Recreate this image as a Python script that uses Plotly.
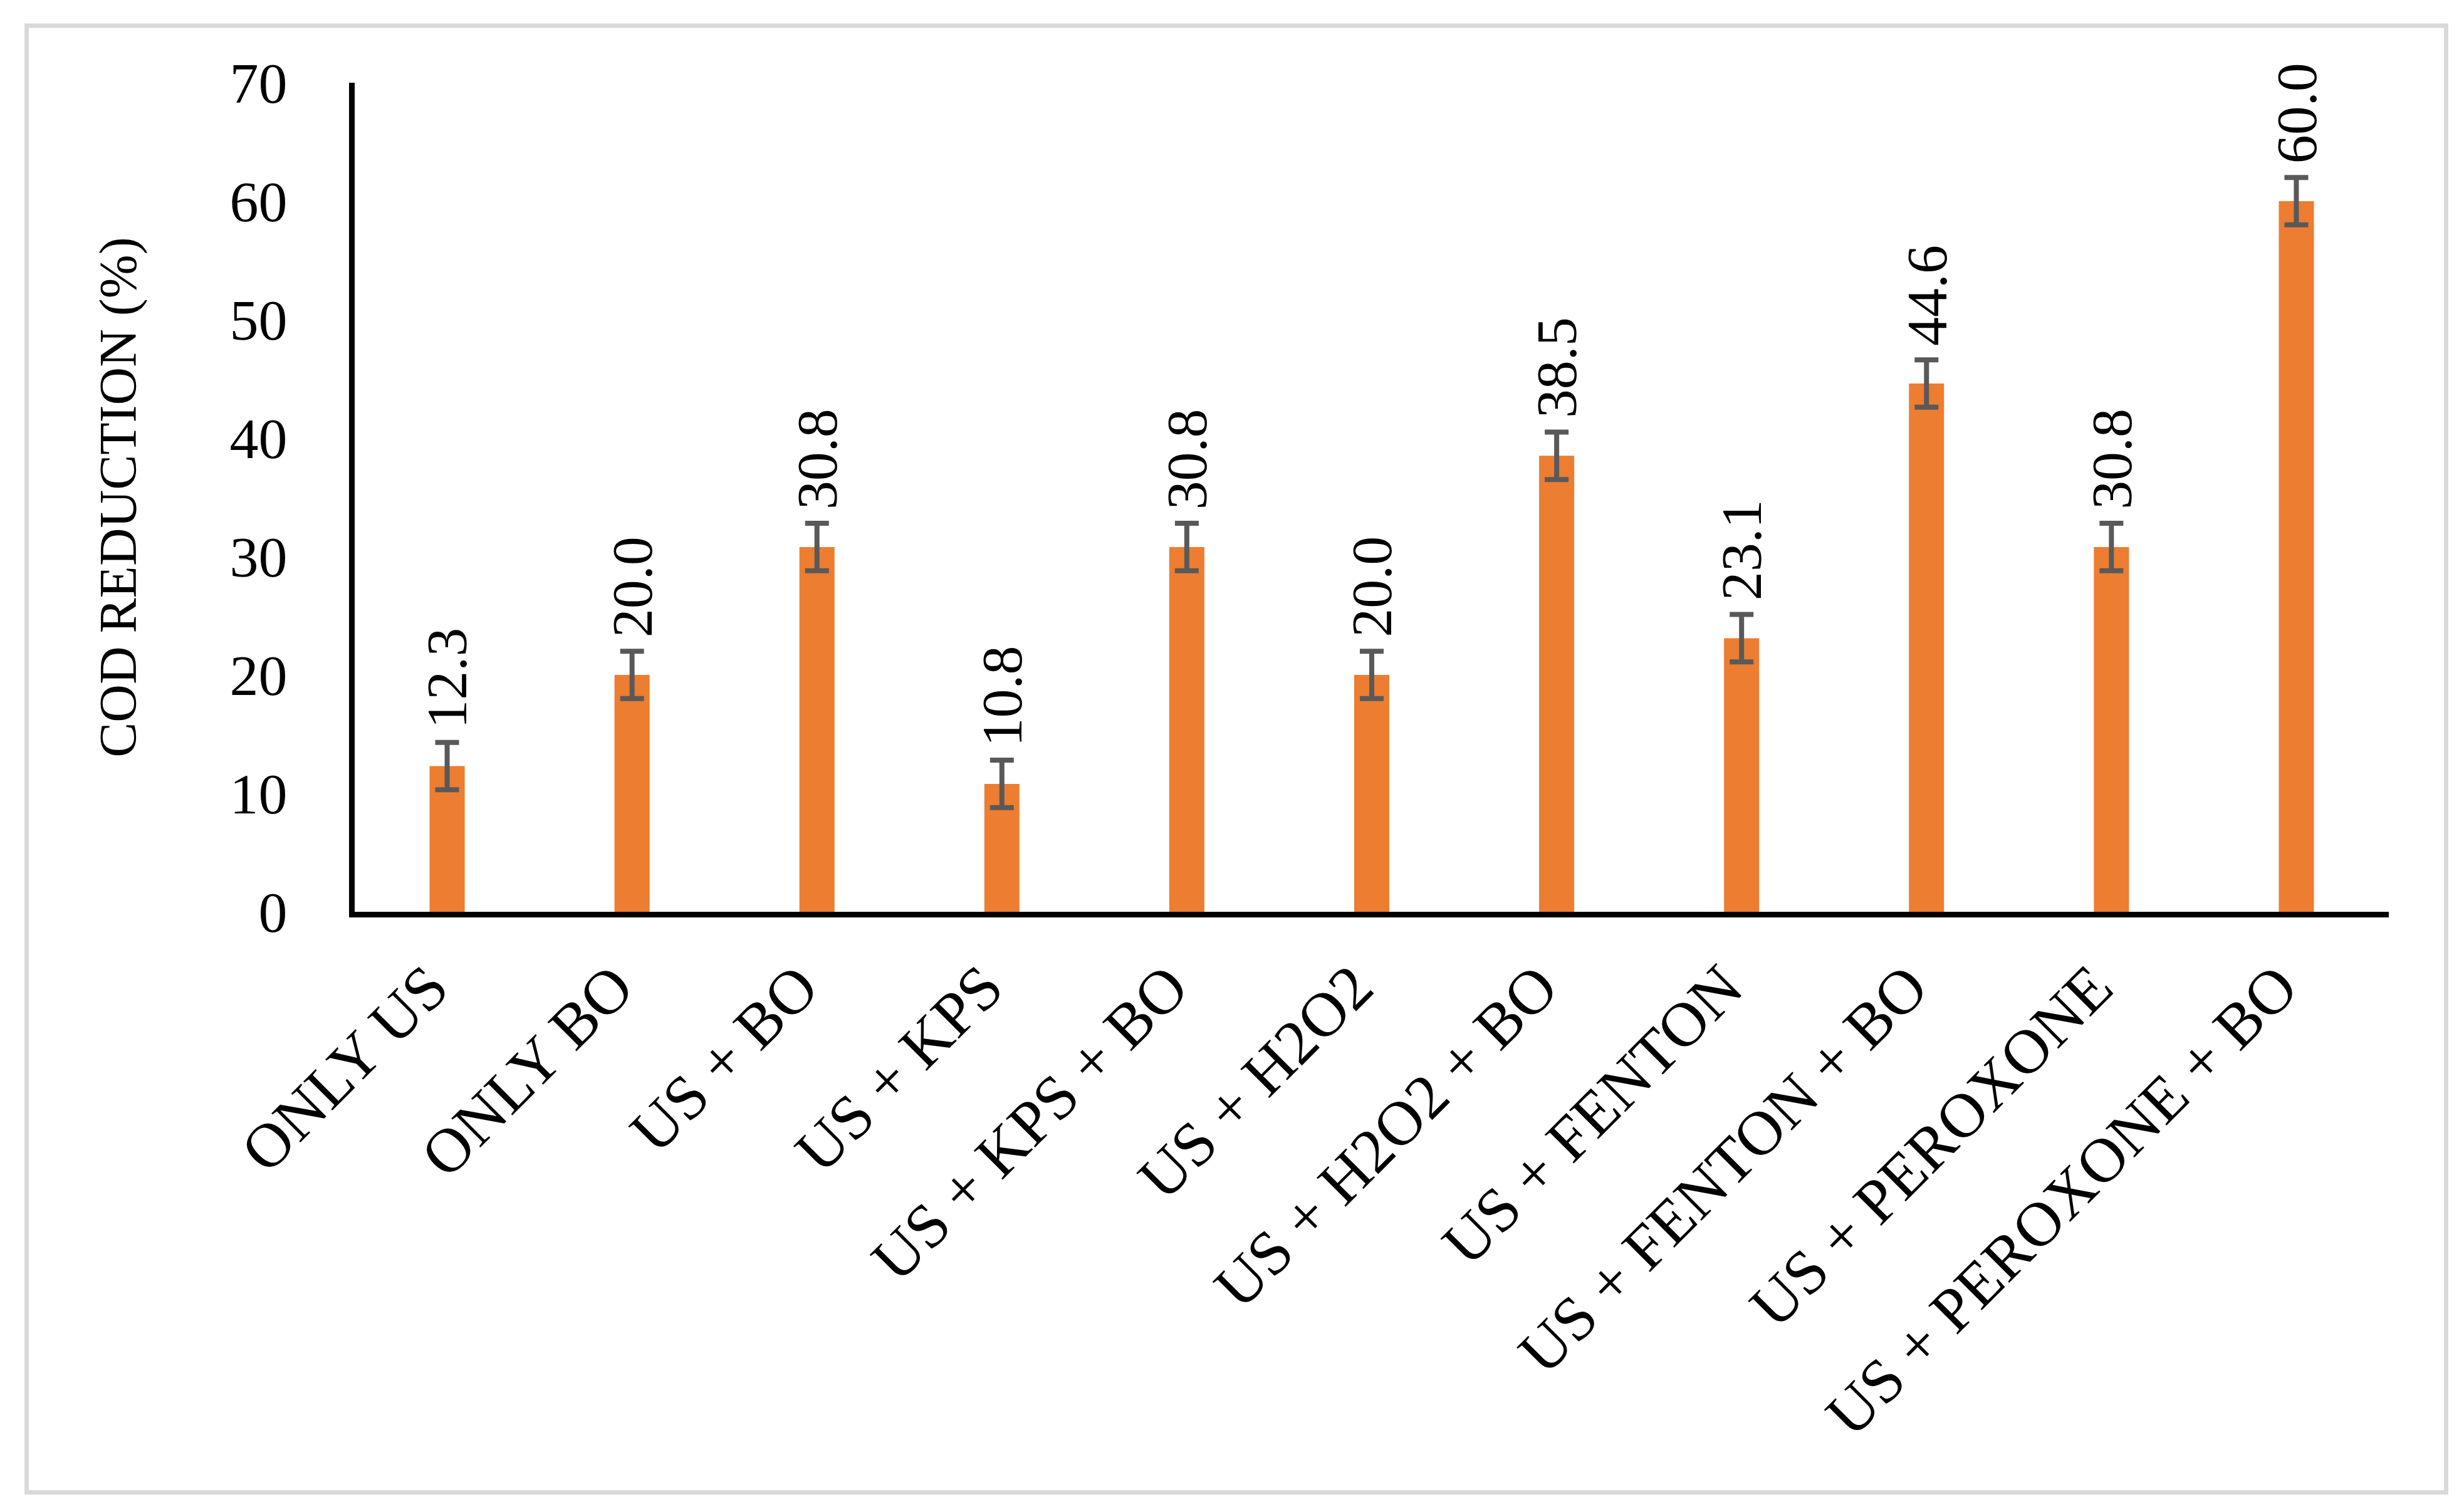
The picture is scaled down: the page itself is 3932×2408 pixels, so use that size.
import plotly.graph_objects as go

categories = ["ONLY US", "ONLY BO", "US + BO", "US + KPS", "US + KPS + BO",
              "US + H2O2", "US + H2O2 + BO", "US + FENTON", "US + FENTON + BO",
              "US + PEROXONE", "US + PEROXONE + BO"]
values = [12.3, 20.0, 30.8, 10.8, 30.8, 20.0, 38.5, 23.1, 44.6, 30.8, 60.0]
errors = [2.0, 2.0, 2.0, 2.0, 2.0, 2.0, 2.0, 2.0, 2.0, 2.0, 2.0]
y_ticks = [0, 10, 20, 30, 40, 50, 60, 70]
y_title = "COD REDUCTION (%)"

FONT = "Liberation Serif"
W, H = 3932, 2408
L, R, T, B = 558, 128, 124, 961

fig = go.Figure()
fig.add_trace(go.Bar(
    x=categories, y=values, width=0.19,
    marker=dict(color="#ED7D31", line=dict(width=0)),
    error_y=dict(type="data", array=errors, visible=True,
                 color="#595959", thickness=8, width=19),
    showlegend=False, hoverinfo="x+y",
))

annotations = []
for c, v, e in zip(categories, values, errors):
    annotations.append(dict(
        x=c, y=v + e, xref="x", yref="y", text=f"{v:.1f}",
        textangle=-90, showarrow=False, xanchor="center", yanchor="bottom",
        yshift=20, font=dict(family=FONT, size=92, color="black"),
    ))

pw = W - L - R
ph = H - T - B
def px_to_paper_x(px):
    return (px - L) / pw
def px_to_paper_y(py):
    return (H - B - py) / ph

shapes = [dict(
    type="rect", xref="paper", yref="paper",
    x0=px_to_paper_x(34.5), x1=px_to_paper_x(3895.5),
    y0=px_to_paper_y(2373.5), y1=px_to_paper_y(33),
    line=dict(color="#D9D9D9", width=7), fillcolor="rgba(0,0,0,0)", layer="below",
)]

fig.update_layout(
    width=W, height=H,
    margin=dict(l=L, r=R, t=T, b=B, autoexpand=False),
    paper_bgcolor="white", plot_bgcolor="white",
    font=dict(family=FONT, color="black"),
    annotations=annotations, shapes=shapes,
    xaxis=dict(
        showline=True, linecolor="black", linewidth=9, ticks="",
        showgrid=False, zeroline=False, tickangle=-45,
        tickfont=dict(family=FONT, size=100, color="black"),
        ticklabelstandoff=12, ticklabelshift=-28,
    ),
    yaxis=dict(
        range=[0, 70], tickvals=y_ticks, showline=True, linecolor="black",
        linewidth=9, ticks="", showgrid=False, zeroline=False,
        tickfont=dict(family=FONT, size=92, color="black"),
        ticklabelstandoff=80,
        title=dict(text=y_title, font=dict(family=FONT, size=84, color="black"),
                   standoff=125),
    ),
    bargap=0.81,
)

fig.write_html("out.html")
